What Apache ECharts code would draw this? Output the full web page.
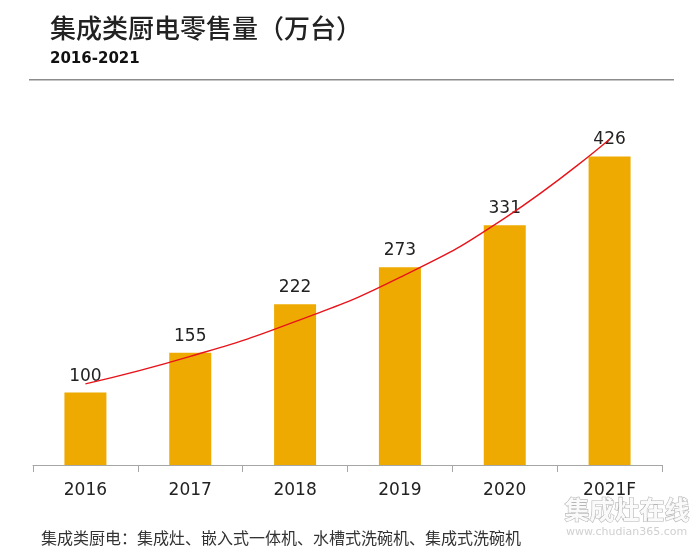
<!DOCTYPE html>
<html>
<head>
<meta charset="utf-8">
<script src="https://cdn.jsdelivr.net/npm/echarts@6/dist/echarts.min.js"></script>
<style>
html,body{margin:0;padding:0;background:#fff;}
#chart{width:700px;height:557px;}
</style>
</head>
<body>
<div id="chart"></div>
<script>
const categories = ['2016', '2017', '2018', '2019', '2020', '2021F'];
const sales = [100, 155, 222, 273, 331, 426];
const trend = [112, 150, 198, 259, 341, 450];
const titleText = '集成类厨电零售量（万台）';
const subtitleText = '2016-2021';
const noteText = '集成类厨电：集成灶、嵌入式一体机、水槽式洗碗机、集成式洗碗机';

const chart = echarts.init(document.getElementById('chart'), null, {renderer: 'canvas'});
chart.setOption({
  backgroundColor: '#fff',
  animation: false,
  grid: {left: 33, right: 38, top: 103, bottom: 92},
  xAxis: {
    type: 'category',
    data: categories,
    axisLine: {lineStyle: {color: '#a6a6a6', width: 1}},
    axisTick: {show: true, length: 7, lineStyle: {color: '#a6a6a6'}},
    axisLabel: {color: '#222', fontSize: 17, fontFamily: 'DejaVu Sans', margin: 17}
  },
  yAxis: {
    type: 'value', min: 0, max: 500, show: false,
    splitLine: {show: false}
  },
  series: [
    {
      type: 'bar',
      data: sales,
      barWidth: 42,
      itemStyle: {color: '#EEAA00'},
      label: {show: true, position: 'top', distance: 8, color: '#222', fontSize: 17, fontFamily: 'DejaVu Sans'}
    },
    {
      type: 'line',
      data: trend,
      smooth: true,
      symbol: 'none',
      lineStyle: {color: '#E8141B', width: 1.4},
      z: 5
    }
  ],
  graphic: [
    {type: 'text', left: 50, top: 15, style: {text: titleText, fill: '#222', font: '500 26px "Noto Sans CJK SC"'}},
    {type: 'text', left: 50, top: 52, style: {text: subtitleText, fill: '#111', font: 'bold 15px "DejaVu Sans"'}},
    {type: 'rect', shape: {x: 29, y: 79, width: 645, height: 1.5}, style: {fill: '#8c8c8c'}},
    {type: 'text', left: 41, top: 530, style: {text: noteText, fill: '#333', font: '16px "Noto Sans CJK SC"'}},
    {type: 'text', left: 564, top: 496, style: {text: '集成灶在线', fill: '#fafafa', stroke: '#b5b5b5', lineWidth: 1.2, font: 'bold 25px "Noto Sans CJK SC"'}},
    {type: 'text', left: 566, top: 527, style: {text: 'www.chudian365.com', fill: '#d0d0d0', font: '11px "DejaVu Sans"'}}
  ]
});
</script>
</body>
</html>
